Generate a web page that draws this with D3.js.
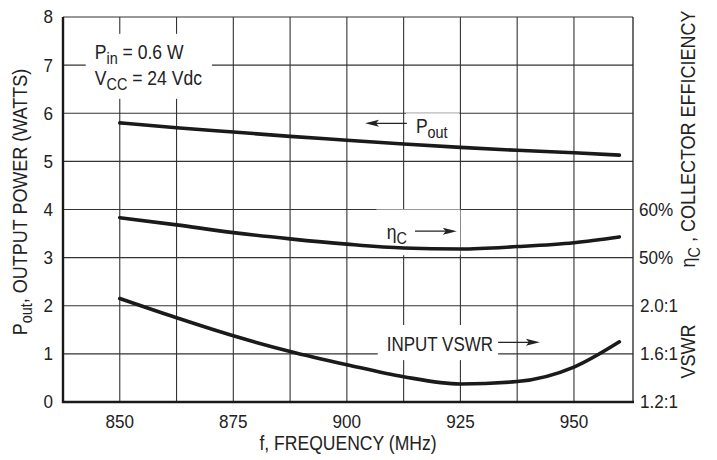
<!DOCTYPE html>
<html><head><meta charset="utf-8">
<script src="https://cdn.jsdelivr.net/npm/d3@7"></script>
<style>
html,body{margin:0;padding:0;background:#fff;}
svg text{font-family:"Liberation Sans",Arial,Helvetica,sans-serif;fill:#222;}
</style></head>
<body>
<svg id="c" width="717" height="460"></svg>
<script>
// ---- data ----
const freqs = [850, 862.5, 875, 887.5, 900, 912.5, 925, 937.5, 950, 960];
const poutW = [5.80, 5.70, 5.61, 5.52, 5.44, 5.36, 5.29, 5.23, 5.18, 5.13];
const effPct = [58.3, 56.8, 55.2, 53.9, 52.8, 52.0, 51.8, 52.3, 53.1, 54.3];
const vswr = [2.06, 1.90, 1.75, 1.62, 1.51, 1.41, 1.35, 1.37, 1.49, 1.70];
const xTicks = [850, 875, 900, 925, 950];
const xGrid = [850, 862.5, 875, 887.5, 900, 912.5, 925, 937.5, 950];
const yTicks = [0, 1, 2, 3, 4, 5, 6, 7, 8];
const effTicks = [50, 60];
const vswrTicks = [1.2, 1.6, 2.0];

const svg = d3.select("#c");
const L = 63, R = 633, T = 17, B = 402;
const x = d3.scaleLinear().domain([837.5, 963]).range([L, R]);
const y = d3.scaleLinear().domain([0, 8]).range([B, T]);
const yE = d3.scaleLinear().domain([20, 100]).range([B, T]);
const yV = d3.scaleLinear().domain([1.2, 4.4]).range([B, T]);
const SX = 0.9;

const g = svg.append("g");
// condensed text helper
function lab(px, py, size, opt = {}) {
  const rot = opt.rot ? ` rotate(${opt.rot})` : "";
  return g.append("text")
    .attr("transform", `translate(${px},${py})${rot} scale(${opt.sx || SX},1)`)
    .attr("font-size", size)
    .attr("text-anchor", opt.anchor || "start")
    .attr("dy", opt.dy || null);
}

// grid
g.selectAll(".vg").data(xGrid).join("line")
  .attr("x1", d => x(d)).attr("x2", d => x(d)).attr("y1", T).attr("y2", B)
  .attr("stroke", "#333").attr("stroke-width", 1.1);
g.selectAll(".hg").data(yTicks.slice(1)).join("line")
  .attr("x1", L).attr("x2", R).attr("y1", d => y(d)).attr("y2", d => y(d))
  .attr("stroke", "#333").attr("stroke-width", 1.1);
g.append("line").attr("x1", R).attr("x2", R).attr("y1", T).attr("y2", B).attr("stroke", "#222").attr("stroke-width", 1.3);

// white backgrounds behind labels
function bg(x0, y0, x1, y1) {
  g.append("rect").attr("x", x(x0)).attr("y", y(y0)).attr("width", x(x1) - x(x0)).attr("height", y(y1) - y(y0)).attr("fill", "#fff");
}
bg(842.5, 7.65, 870.3, 6.3);
bg(913, 6.0, 924.8, 5.5);
bg(906.5, 4.0, 925, 3.05);
bg(906.8, 1.6, 933.3, 0.87);

// axes left & bottom
g.append("line").attr("x1", L).attr("x2", L).attr("y1", T).attr("y2", B + 1).attr("stroke", "#1a1a1a").attr("stroke-width", 2.4);
g.append("line").attr("x1", L - 1).attr("x2", R + 1).attr("y1", B).attr("y2", B).attr("stroke", "#1a1a1a").attr("stroke-width", 2.4);

// tick labels
const TS = 18, TSX = 0.95;
yTicks.forEach(d => lab(L - 10, y(d), TS, { anchor: "end", dy: "0.36em", sx: TSX }).text(d));
xTicks.forEach(d => lab(x(d), B + 26, TS, { anchor: "middle", sx: TSX }).text(d));
effTicks.forEach(d => lab(R + 6, yE(d), TS, { dy: "0.36em", sx: TSX }).text(d + "%"));
vswrTicks.forEach(d => lab(R + 7, yV(d), TS, { dy: "0.36em", sx: TSX }).text(d.toFixed(1) + ":1"));

// axis titles
lab((L + R) / 2, 450, 19.5, { anchor: "middle" }).text("f, FREQUENCY (MHz)");
const lt = lab(27, 202, 20, { anchor: "middle", rot: -90 });
lt.append("tspan").text("P");
lt.append("tspan").attr("dy", 5).attr("font-size", 16).text("out");
lt.append("tspan").attr("dy", -5).text(", OUTPUT POWER (WATTS)");
const rt = lab(695, 139, 20, { anchor: "middle", rot: -90 });
rt.append("tspan").text("η");
rt.append("tspan").attr("dy", 5).attr("font-size", 16).text("C");
rt.append("tspan").attr("dy", -5).text(" , COLLECTOR EFFICIENCY");
lab(695, yV(1.62), 20, { anchor: "middle", rot: -90 }).text("VSWR");

// curves
const line = (sc) => d3.line().x((d, i) => x(freqs[i])).y(d => sc(d)).curve(d3.curveMonotoneX);
[[poutW, y], [effPct, yE], [vswr, yV]].forEach(([arr, sc]) => {
  g.append("path").datum(arr).attr("d", line(sc)).attr("fill", "none")
    .attr("stroke", "#1a1a1a").attr("stroke-width", 3.6).attr("stroke-linecap", "round");
});

// annotations
function txtSub(xv, yv, main, sub, rest) {
  const t = lab(x(xv), y(yv), 19.5);
  t.append("tspan").text(main);
  t.append("tspan").attr("dy", 5).attr("font-size", 16).text(sub);
  if (rest) t.append("tspan").attr("dy", -5).text(rest);
}
txtSub(844.5, 7.12, "P", "in", " = 0.6 W");
txtSub(844.5, 6.58, "V", "CC", " = 24 Vdc");
txtSub(915.2, 5.6, "P", "out");
txtSub(908.8, 3.38, "η", "C");
lab(x(908.8), y(1.05), 19.5, { sx: 0.87 }).text("INPUT VSWR");

function arrow(x0, x1, yv) {
  const ya = y(yv), xa = x(x0), xb = x(x1);
  const dir = Math.sign(xb - xa);
  g.append("line").attr("x1", xa).attr("x2", xb - dir * 8).attr("y1", ya).attr("y2", ya).attr("stroke", "#222").attr("stroke-width", 1.3);
  g.append("path").attr("d", `M${xb},${ya} L${xb - dir * 14},${ya - 3.5} L${xb - dir * 11},${ya} L${xb - dir * 14},${ya + 3.5} Z`).attr("fill", "#222");
}
arrow(913.2, 904, 5.79);
arrow(915, 924.2, 3.55);
arrow(933.3, 942.5, 1.24);
</script>
</body></html>
